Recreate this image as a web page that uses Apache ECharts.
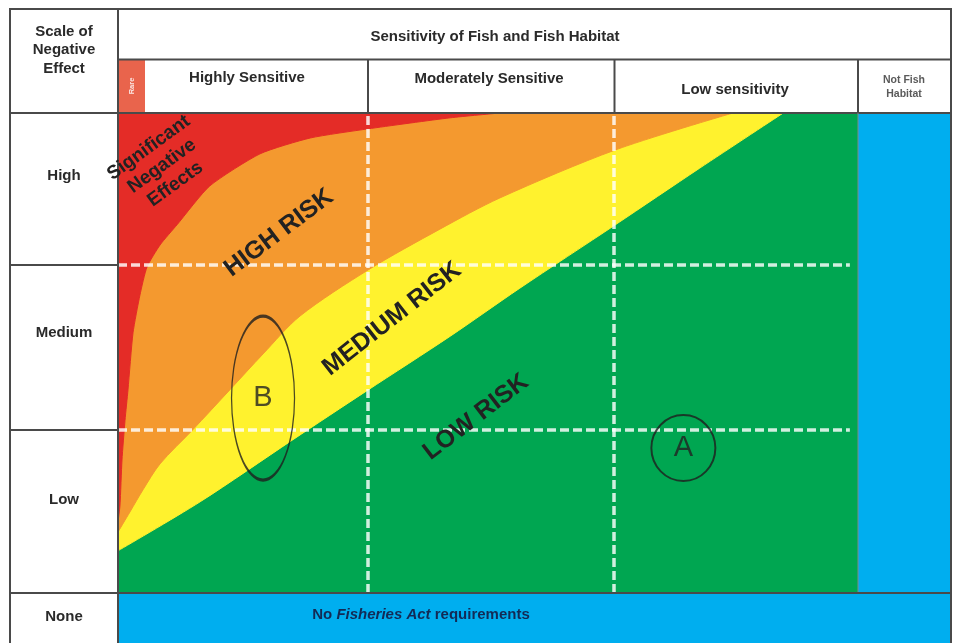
<!DOCTYPE html>
<html><head><meta charset="utf-8">
<script src="https://cdn.jsdelivr.net/npm/echarts@6/dist/echarts.min.js"></script>
<style>html,body{margin:0;padding:0;background:#fff}#c{width:958px;height:643px}</style>
</head><body><div id="c"></div>
<script>
// ---------------- data ----------------
// x: sensitivity axis 0..100 (left = highly sensitive), y: scale of negative effect 0..100 (top = high)
const sensitivityHeaders = ['Highly Sensitive', 'Moderately Sensitive', 'Low sensitivity', 'Not Fish\nHabitat'];
const effectLevels = ['High', 'Medium', 'Low', 'None'];
const topHeader = 'Sensitivity of Fish and Fish Habitat';
const cornerHeader = 'Scale of\nNegative\nEffect';
const noneRowText = 'No Fisheries Act requirements';

// upper edge of the red zone (red / orange boundary)
const significantEdge = [[0,14.8],[0.27,18.3],[0.54,27.7],[0.95,36.0],[1.35,42.3],[2.03,54.2],[2.97,62.1],[3.92,67.9],[5.68,72.5],[7.97,76.7],[12.4,84.8],[19.2,91.5],[26.0,94.8],[33.8,96.7],[44.9,99.0],[51.6,100]];
// orange / yellow boundary
const highRiskEdge = [[0,12.7],[1.62,16.9],[3.38,21.5],[5.68,26.9],[10.1,34.0],[15.1,42.3],[19.6,49.8],[24.6,57.7],[33.8,67.3],[43.5,75.8],[51.6,82.3],[67.2,92.3],[83.1,100]];
// yellow / green boundary
const mediumRiskEdge = [[0,8.8],[11.1,19.0],[23.6,31.9],[33.6,42.1],[44.9,53.5],[54.3,63.5],[67.2,76.7],[78.6,88.5],[89.9,100]];

const dividersX = [33.8, 67.0];   // vertical dashed lines
const dividersY = [34.0, 68.3];   // horizontal dashed lines
const caseNames = ['B', 'A'];
const caseX = [19.6, 76.4];
const caseY = [40.6, 30.2];
const zoneTexts = ['Significant\nNegative\nEffects', 'HIGH RISK', 'MEDIUM RISK', 'LOW RISK'];

// ---------------- layout ----------------
const PL = 118, PT = 113, PR = 858, PB = 593;     // plot area px
const FR = 951, FB = 643;                         // outer right/bottom
const UX = (PR - PL) / 100, UY = (PB - PT) / 100;
const XMAX = (FR - PL) / UX, YMIN = -(FB - PB) / UY;
const FONT = '"Liberation Sans", Arial, sans-serif';
const LINE = '#4a4a4a', TXT = '#2a2a2a';

function zone(edge, color, z, sm) {
  return { type: 'line', data: edge, z, smooth: sm, symbol: 'none', silent: true,
    lineStyle: { color, width: 1 }, areaStyle: { color, opacity: 1, origin: 'end' } };
}

const dashData = [];
dividersY.forEach(v => dashData.push([{ coord: [0, v] }, { coord: [98.9, v] }]));
dividersX.forEach(v => dashData.push([{ coord: [v, 0] }, { coord: [v, 100] }]));

const g = [];
function line(x1, y1, x2, y2, w, c) { g.push({ type: 'line', z: 100, silent: true, shape: { x1, y1, x2, y2 }, style: { stroke: c || LINE, lineWidth: w || 2 } }); }
function text(t, x, y, size, opts) {
  opts = opts || {};
  g.push({ type: 'text', z: 101, silent: true, x, y, rotation: (opts.rot || 0) * Math.PI / 180,
    style: { text: t, fill: opts.fill || TXT, font: (opts.weight || 'bold') + ' ' + size + 'px ' + FONT,
      align: 'center', verticalAlign: 'middle', lineHeight: opts.lh || size * 1.2 } });
}
// Rare strip
g.push({ type: 'rect', z: 99, silent: true, shape: { x: 118, y: 60, width: 27, height: 53 }, style: { fill: '#e9644c' } });
text('Rare', 131.5, 86, 7.5, { rot: 90, fill: 'rgba(255,255,255,0.85)' });
// frame
g.push({ type: 'rect', z: 100, silent: true, shape: { x: 10, y: 9, width: FR - 10, height: 700 }, style: { fill: 'none', stroke: LINE, lineWidth: 2 } });
line(PL, 9, PL, 660);
line(PL, 59.5, FR, 59.5);
line(10, PT, FR, PT);
line(368, 59.5, 368, PT); line(614.5, 59.5, 614.5, PT); line(PR, 59.5, PR, PT);
line(PR, PT, PR, PB, 1, '#7a8a8a');
line(10, 265, PL, 265); line(10, 430, PL, 430);
line(10, PB, FR, PB);
// header texts
text(cornerHeader, 64, 50, 15, { lh: 18.5 });
text(topHeader, 495, 37, 15);
text(sensitivityHeaders[0], 247, 78, 15);
text(sensitivityHeaders[1], 489, 79, 15);
text(sensitivityHeaders[2], 735, 90, 15);
text(sensitivityHeaders[3], 904, 87, 10.5, { lh: 14.5, fill: '#5a5a5a' });
const rowY = [176, 333, 500, 617];
effectLevels.forEach((t, i) => text(t, 64, rowY[i], 15));
g.push({ type: 'text', z: 101, silent: true, x: 421, y: 615,
  style: { text: '{a|No }{b|Fisheries Act}{a| requirements}', align: 'center', verticalAlign: 'middle',
    rich: { a: { fontSize: 15, fontWeight: 'bold', fontFamily: FONT, fill: '#132a55' },
            b: { fontSize: 15, fontWeight: 'bold', fontStyle: 'italic', fontFamily: FONT, fill: '#132a55' } } } });
// zone labels
text(zoneTexts[0], 162, 166, 19, { rot: 36, lh: 22.5, fill: '#222' });
text(zoneTexts[1], 279, 233, 25, { rot: 37, fill: '#222' });
text(zoneTexts[2], 392, 319, 25, { rot: 38, fill: '#222' });
text(zoneTexts[3], 476, 417, 25, { rot: 37.5, fill: '#222' });

const caseSizes = [[63, 164], [64, 66]];

const option = {
  animation: false,
  grid: { left: PL, top: PT, width: FR - PL, height: FB - PT, show: false },
  xAxis: { type: 'value', min: 0, max: XMAX, show: false },
  yAxis: { type: 'value', min: YMIN, max: 100, show: false },
  series: [
    { type: 'line', data: [], z: 1, silent: true,
      markArea: { silent: true, label: { show: false }, data: [
        [{ xAxis: 0, yAxis: 0, itemStyle: { color: '#00a651', opacity: 1, borderWidth: 0 } }, { xAxis: 100, yAxis: 100 }],
        [{ xAxis: 100, yAxis: 0, itemStyle: { color: '#00aeef', opacity: 1, borderWidth: 0 } }, { xAxis: XMAX, yAxis: 100 }],
        [{ xAxis: 0, yAxis: YMIN, itemStyle: { color: '#00aeef', opacity: 1, borderWidth: 0 } }, { xAxis: XMAX, yAxis: 0 }]
      ] } },
    zone(mediumRiskEdge, '#fff22e', 2, 0.3),
    zone(highRiskEdge, '#f4992f', 3, 0.3),
    zone(significantEdge, '#e42c27', 4, 0.2),
    { type: 'line', data: [], z: 6, silent: true,
      markLine: { symbol: 'none', silent: true, label: { show: false },
        lineStyle: { color: 'rgba(255,255,255,0.82)', width: 3.5, type: [9, 4] }, data: dashData } },
    { type: 'scatter', z: 7, silent: true,
      data: caseNames.map((n, i) => ({ name: n, value: [caseX[i], caseY[i]], symbolSize: caseSizes[i] })),
      symbol: 'circle',
      itemStyle: { color: 'rgba(0,0,0,0)', borderColor: '#1e1e1e', borderWidth: 2 },
      label: { show: true, position: 'inside', formatter: p => p.name, fontSize: 29, fontFamily: FONT, color: '#222' } }
  ],
  graphic: g
};
const chart = echarts.init(document.getElementById('c'));
chart.setOption(option);
</script></body></html>
